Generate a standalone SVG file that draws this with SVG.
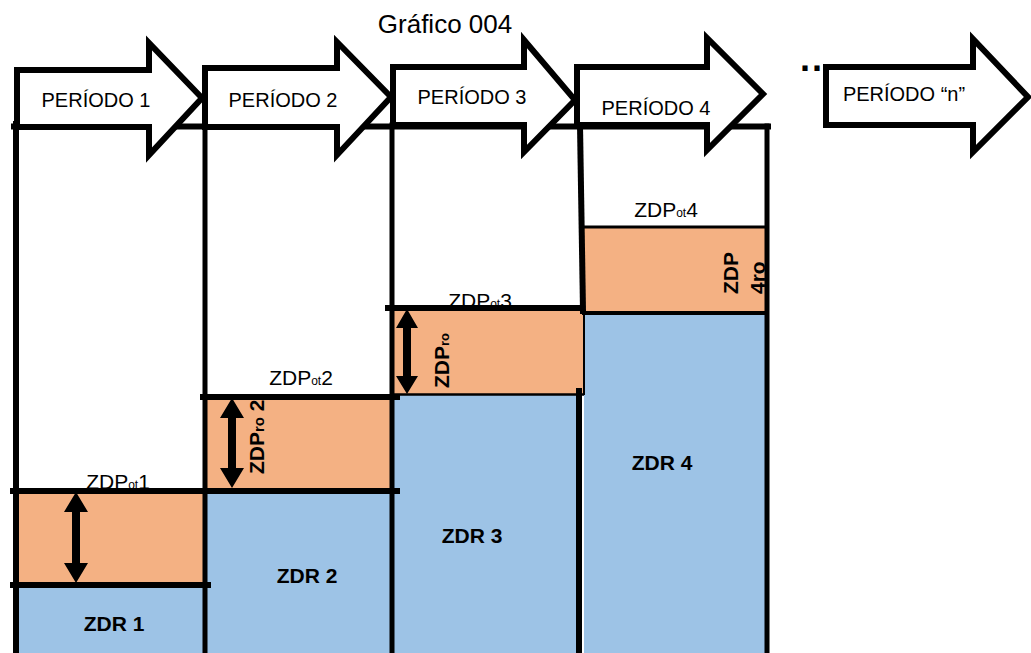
<svg xmlns="http://www.w3.org/2000/svg" width="1031" height="653" viewBox="0 0 1031 653">
<style>
.bg{fill:#ffffff}
.or{fill:#F4B183}
.bl{fill:#9DC3E6}
.ln{stroke:#000;stroke-width:6;fill:none;stroke-linecap:square}
.arr{fill:#fff;stroke:#000;stroke-width:6;stroke-linejoin:miter}
.per{font-family:"Liberation Sans",Arial,sans-serif;font-size:20px;fill:#000;text-anchor:middle}
.ttl{font-family:"Liberation Sans",Arial,sans-serif;font-size:26px;fill:#000;text-anchor:middle}
.zdr{font-family:"Liberation Sans",Arial,sans-serif;font-size:21px;font-weight:bold;fill:#000;text-anchor:middle}
.zot{font-family:"Liberation Sans",Arial,sans-serif;font-size:21px;fill:#000;text-anchor:middle}
.sub{font-size:12px}
.rot{font-family:"Liberation Sans",Arial,sans-serif;font-size:21px;font-weight:bold;fill:#000}
.dbl{fill:#000}
</style>
<rect class="bg" x="0" y="0" width="1031" height="653"/>

<g id="title"><text class="ttl" x="445" y="33">Gráfico 004</text></g>

<g id="col1">
<rect class="or" x="16" y="491" width="189" height="94"/>
<rect class="bl" x="16" y="585" width="189" height="68"/>
<text class="zot" x="118" y="489">ZDP<tspan class="sub">ot</tspan>1</text>
<text class="zdr" x="114" y="631">ZDR 1</text>
</g>
<g id="col2">
<rect class="or" x="205" y="397" width="187" height="94"/>
<rect class="bl" x="205" y="491" width="187" height="162"/>
<text class="zot" x="301" y="385">ZDP<tspan class="sub">ot</tspan>2</text>
<text class="zdr" x="307" y="583">ZDR 2</text>
</g>
<g id="col3">
<rect class="or" x="392" y="308" width="192" height="87"/>
<rect class="bl" x="392" y="395" width="187" height="258"/>
<text class="zot" x="480" y="308">ZDP<tspan class="sub">ot</tspan>3</text>
<text class="zdr" x="472" y="543">ZDR 3</text>
</g>
<g id="col4">
<rect class="or" x="584" y="227" width="184" height="86"/>
<rect class="bl" x="584" y="313" width="183" height="340"/>
<text class="zot" x="666" y="217">ZDP<tspan class="sub">ot</tspan>4</text>
<text class="zdr" x="662" y="470">ZDR 4</text>
</g>

<g id="grid">
<line class="ln" x1="16" y1="124" x2="16" y2="656"/>
<line class="ln" x1="205" y1="127" x2="205" y2="656" style="stroke-width:5"/>
<line class="ln" x1="392" y1="125" x2="392" y2="656" style="stroke-width:5"/>
<line class="ln" x1="580" y1="125" x2="583" y2="311"/>
<line x1="584" y1="313" x2="584" y2="395" stroke="#000" stroke-width="2"/>
<line class="ln" x1="579" y1="391" x2="579" y2="656"/>
<line class="ln" x1="767" y1="126" x2="767" y2="656" style="stroke-width:5"/>
<line class="ln" x1="14" y1="126.5" x2="768" y2="126.5"/>
<line class="ln" x1="13" y1="491" x2="397" y2="491"/>
<line class="ln" x1="13" y1="585" x2="208" y2="585"/>
<line class="ln" x1="203" y1="397" x2="397" y2="397"/>
<line class="ln" x1="388" y1="308" x2="582" y2="308"/>
<line x1="392" y1="394.5" x2="584" y2="394.5" stroke="#000" stroke-width="2.5"/>
<line x1="584" y1="227" x2="769" y2="227" stroke="#000" stroke-width="3"/>
<line x1="582" y1="313" x2="769" y2="313" stroke="#000" stroke-width="4"/>
</g>

<g id="connectors">
<polygon class="dbl" points="76,492 88,512 80,512 80,563 88,563 76,583 64,563 72,563 72,512 64,512"/>
<polygon class="dbl" points="232,398 244,418 236,418 236,468 244,468 232,488 220,468 228,468 228,418 220,418"/>
<polygon class="dbl" points="407,309 418,328 411,328 411,376 418,376 407,394 396,376 403,376 403,328 396,328"/>
</g>

<g id="period1">
<polygon class="arr" points="17,70 149,70 149,43 202,98 149,155 149,127 17,127"/>
<text class="per" x="96" y="107">PERÍODO 1</text>
</g>
<g id="period2">
<polygon class="arr" points="205,68 337,68 337,42 391,97 337,155 337,127 205,127"/>
<text class="per" x="283" y="107">PERÍODO 2</text>
</g>
<g id="period3">
<polygon class="arr" points="393,67 524,67 524,40 575,100 524,152 524,125 393,125"/>
<text class="per" x="472" y="104">PERÍODO 3</text>
</g>
<g id="period4">
<polygon class="arr" points="577,67 707,67 707,38 763,94 707,150 707,125 577,125"/>
<text class="per" x="656" y="115">PERÍODO 4</text>
</g>
<g id="periodn">
<text x="800" y="71" style="font-family:'Liberation Sans',Arial,sans-serif;font-size:36px;font-weight:bold;letter-spacing:2px">..</text>
<polygon class="arr" points="826,67 973,67 973,39 1028,97 973,152 973,125 826,125"/>
<text class="per" x="904" y="101">PERÍODO “n”</text>
</g>

<g id="labels-ro">
<text class="rot" transform="translate(264,474) rotate(-90)">ZDP<tspan style="font-size:15px">ro</tspan> 2</text>
<text class="rot" transform="translate(449,388) rotate(-90)">ZDP<tspan style="font-size:13px">ro</tspan></text>
<text class="rot" transform="translate(738,294) rotate(-90)">ZDP</text>
<text class="rot" transform="translate(765,294) rotate(-90)">4ro</text>
</g>
</svg>
